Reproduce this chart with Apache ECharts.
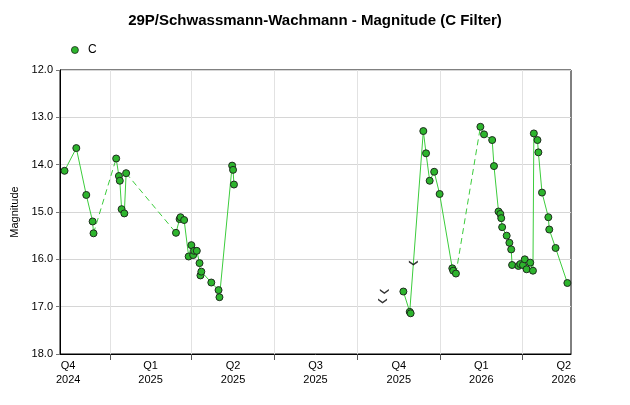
<!DOCTYPE html>
<html>
<head>
<meta charset="utf-8">
<title>29P/Schwassmann-Wachmann</title>
<script src="https://cdn.jsdelivr.net/npm/echarts@6/dist/echarts.min.js"></script>
<style>
  body { margin: 0; background: #fff; }
  #chart29p { width: 630px; height: 405px; }
</style>
</head>
<body>
<div id="chart29p"></div>
<script>
  // observation dates and C-filter magnitudes
  var obsDates = [
    '2024-11-12', '2024-11-25', '2024-12-06', '2024-12-13', '2024-12-14',
    '2025-01-08', '2025-01-11', '2025-01-12', '2025-01-14', '2025-01-17', '2025-01-19',
    '2025-03-15', '2025-03-19', '2025-03-20', '2025-03-24', '2025-03-29', '2025-04-01', '2025-04-03', '2025-04-04',
    '2025-04-07', '2025-04-10', '2025-04-11', '2025-04-12', '2025-04-23', '2025-05-01', '2025-05-02',
    '2025-05-16', '2025-05-17', '2025-05-18',
    '2025-11-21', '2025-11-28', '2025-11-29', '2025-12-13', '2025-12-16', '2025-12-20', '2025-12-25', '2025-12-31',
    '2026-01-14', '2026-01-15', '2026-01-18',
    '2026-02-14', '2026-02-18', '2026-02-27', '2026-03-01', '2026-03-06', '2026-03-08', '2026-03-09', '2026-03-10',
    '2026-03-15', '2026-03-18', '2026-03-20', '2026-03-21', '2026-03-28', '2026-03-30', '2026-04-02', '2026-04-04',
    '2026-04-06', '2026-04-10', '2026-04-13', '2026-04-14', '2026-04-18', '2026-04-19', '2026-04-23', '2026-04-30',
    '2026-05-01', '2026-05-08', '2026-05-21'
  ];
  var obsMags = [
    14.13, 13.65, 14.64, 15.20, 15.45,
    13.87, 14.24, 14.34, 14.94, 15.03, 14.18,
    15.44, 15.15, 15.11, 15.17, 15.94, 15.70, 15.91, 15.82,
    15.82, 16.08, 16.34, 16.26, 16.49, 16.65, 16.80,
    14.02, 14.11, 14.42,
    16.68, 17.11, 17.14, 13.29, 13.76, 14.34, 14.15, 14.62,
    16.19, 16.24, 16.30,
    13.20, 13.36, 13.48, 14.03, 14.99, 15.04, 15.13, 15.32,
    15.50, 15.65, 15.79, 16.12, 16.14, 16.10, 16.12, 16.00,
    16.21, 16.07, 16.24, 13.34, 13.48, 13.74, 14.59, 15.11,
    15.37, 15.76, 16.50
  ];
  // fainter-than limits (chevrons)
  var limitDates = ['2025-10-29', '2025-10-31', '2025-12-02'];
  var limitMags = [16.88, 16.68, 16.08];
  // quarter starts (ticks / grid) and quarter labels
  var quarterStarts = ['2024-10-01', '2025-01-01', '2025-04-01', '2025-07-01', '2025-10-01', '2026-01-01', '2026-04-01', '2026-07-01'];
  var quarterLabels = ['Q4\n2024', 'Q1\n2025', 'Q2\n2025', 'Q3\n2025', 'Q4\n2025', 'Q1\n2026', 'Q2\n2026'];
  var xMinDate = '2024-11-07';
  var xMaxDate = '2026-05-25';

  function toMs(s) {
    var p = s.split('-').map(Number);
    return Date.UTC(p[0], p[1] - 1, p[2]);
  }
  var DAY = 86400000;

  var points = [], solid = [], dashed = [];
  for (var i = 0; i < obsDates.length; i++) {
    var t = toMs(obsDates[i]);
    points.push([t, obsMags[i]]);
    if (i > 0) {
      var gap = (t - toMs(obsDates[i - 1])) / DAY;
      if (gap > 20) {
        solid.push([t - DAY, '-']);
        if (gap < 90) {
          dashed.push([toMs(obsDates[i - 1]), obsMags[i - 1]], [t, obsMags[i]], [t + 1, '-']);
        }
      }
    }
    solid.push([t, obsMags[i]]);
  }
  var limits = limitDates.map(function (d, k) { return [toMs(d), limitMags[k]]; });

  var tickVals = quarterStarts.map(toMs);
  var labelVals = [], labelMap = {};
  for (var q = 0; q < quarterLabels.length; q++) {
    var c = Math.round((tickVals[q] + tickVals[q + 1]) / 2 / DAY) * DAY;
    labelVals.push(c);
    labelMap[c] = quarterLabels[q];
  }
  var xMin = toMs(xMinDate), xMax = toMs(xMaxDate);
  tickVals = tickVals.filter(function (v) { return v > xMin && v < xMax; });

  var fontFam = '"Liberation Sans", Arial, sans-serif';
  var chart29p = echarts.init(document.getElementById('chart29p'));
  var option = {
    animation: false,
    title: {
      text: '29P/Schwassmann-Wachmann - Magnitude (C Filter)',
      left: 'center',
      top: 8,
      textStyle: { fontSize: 15, fontWeight: 'bold', color: '#000', fontFamily: fontFam }
    },
    legend: {
      data: ['C'],
      left: 66,
      top: 39,
      icon: 'circle',
      itemWidth: 16,
      itemHeight: 7,
      itemStyle: { borderWidth: 0.8 },
      textStyle: { fontSize: 12, color: '#000', fontFamily: fontFam }
    },
    grid: {
      left: 60,
      right: 59,
      top: 70,
      bottom: 51,
      containLabel: false,
      outerBoundsMode: 'none',
      show: true,
      borderColor: '#000',
      borderWidth: 1
    },
    xAxis: {
      type: 'value',
      min: xMin,
      max: xMax,
      axisLine: { lineStyle: { color: '#000', width: 1 } },
      axisTick: { show: true, customValues: tickVals, length: 6, lineStyle: { color: '#555' } },
      splitLine: { show: true, lineStyle: { color: '#e2e2e2', width: 1 } },
      axisLabel: {
        customValues: labelVals,
        formatter: function (v) { return labelMap[v] || ''; },
        color: '#000',
        fontSize: 11,
        fontFamily: fontFam,
        lineHeight: 14,
        margin: 5,
        hideOverlap: false
      }
    },
    yAxis: {
      type: 'value',
      inverse: true,
      min: 12,
      max: 18,
      interval: 1,
      name: 'Magnitude',
      nameLocation: 'middle',
      nameGap: 39,
      nameTextStyle: { fontSize: 11, color: '#000', fontFamily: fontFam },
      axisLine: { show: true, lineStyle: { color: '#000' } },
      axisTick: { show: true, length: 4, lineStyle: { color: '#777' } },
      splitLine: { lineStyle: { color: '#d6d6d6' } },
      axisLabel: {
        formatter: function (v) { return v.toFixed(1); },
        color: '#000',
        fontSize: 11,
        fontFamily: fontFam,
        margin: 7
      }
    },
    series: [
      {
        name: 'solid',
        type: 'line',
        data: solid,
        showSymbol: false,
        connectNulls: false,
        lineStyle: { color: '#3ccc3c', width: 1 },
        z: 2
      },
      {
        name: 'gap',
        type: 'line',
        data: dashed,
        showSymbol: false,
        connectNulls: false,
        lineStyle: { color: '#3ccc3c', width: 1, type: [6, 4] },
        z: 2
      },
      {
        name: 'C',
        type: 'scatter',
        data: points,
        symbol: 'circle',
        symbolSize: 7,
        itemStyle: { color: '#2db52d', borderColor: '#1e2a1e', borderWidth: 1, opacity: 1 },
        z: 3
      },
      {
        name: 'limit',
        type: 'scatter',
        data: limits,
        symbol: 'path://M0,0 L4.5,3.2 L9,0 L9,1.8 L4.5,5 L0,1.8 Z',
        symbolSize: [9, 5],
        itemStyle: { color: '#000' },
        z: 3
      }
    ]
  };

  option && chart29p.setOption(option);
</script>
</body>
</html>
